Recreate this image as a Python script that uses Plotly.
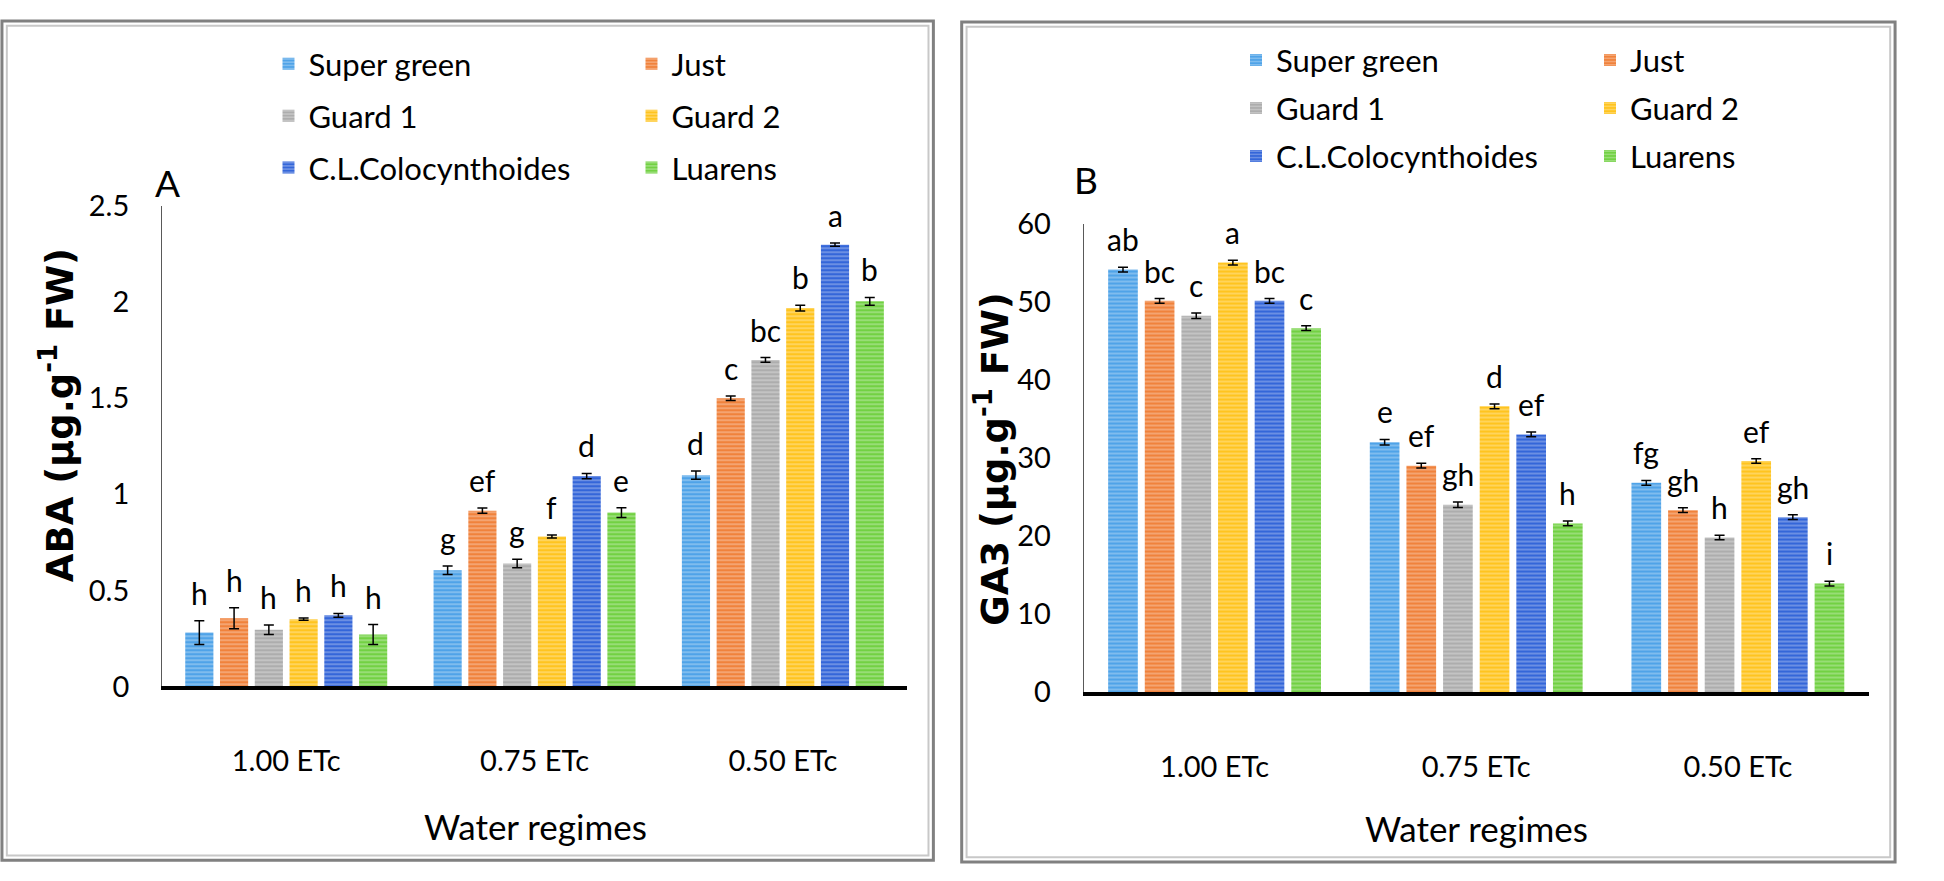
import plotly.graph_objects as go

W, H = 1944, 881

# --- data -------------------------------------------------------------
REGIMES = ["1.00 ETc", "0.75 ETc", "0.50 ETc"]
CULTIVARS = ["Super green", "Just", "Guard 1", "Guard 2", "C.L.Colocynthoides", "Luarens"]

# ABA (ug/g FW), one list per water regime, cultivars in CULTIVARS order
ABA_100 = [0.28, 0.355, 0.295, 0.35, 0.37, 0.27]
ABA_075 = [0.605, 0.915, 0.64, 0.78, 1.095, 0.905]
ABA_050 = [1.10, 1.50, 1.70, 1.97, 2.30, 2.005]
ABA_ERR_100 = [0.062, 0.055, 0.025, 0.006, 0.01, 0.052]
ABA_ERR_075 = [0.022, 0.014, 0.022, 0.008, 0.014, 0.025]
ABA_ERR_050 = [0.022, 0.012, 0.012, 0.015, 0.008, 0.02]
ABA_SIG_100 = ["h", "h", "h", "h", "h", "h"]
ABA_SIG_075 = ["g", "ef", "g", "f", "d", "e"]
ABA_SIG_050 = ["d", "c", "bc", "b", "a", "b"]

# GA3 (ug/g FW)
GA3_100 = [54.1, 50.1, 48.2, 55.0, 50.1, 46.6]
GA3_075 = [32.0, 29.0, 24.0, 36.6, 33.0, 21.6]
GA3_050 = [26.8, 23.3, 19.8, 29.6, 22.4, 13.9]
GA3_ERR_100 = [0.3, 0.3, 0.35, 0.3, 0.3, 0.3]
GA3_ERR_075 = [0.35, 0.3, 0.35, 0.3, 0.3, 0.3]
GA3_ERR_050 = [0.3, 0.3, 0.3, 0.3, 0.3, 0.3]
GA3_SIG_100 = ["ab", "bc", "c", "a", "bc", "c"]
GA3_SIG_075 = ["e", "ef", "gh", "d", "ef", "h"]
GA3_SIG_050 = ["fg", "gh", "h", "ef", "gh", "i"]

COLORS = ["#4fa3e8", "#f0823c", "#adadad", "#ffc41f", "#3466d9", "#72d143"]

FONT = "Lato, Carlito, sans-serif"
TITLE_FONT = "DejaVu Sans, Verdana, sans-serif"
BARGAP = 0.16
GROUPGAP = 0.19


def fx(p):
    return p / W


def fy(p):
    return 1 - p / H


def label(x, y, text, size, family=FONT, angle=0):
    # free text placed in pixel coordinates of the page
    return dict(x=fx(x), y=fy(y), xref="paper", yref="paper",
                xanchor="center", yanchor="middle", textangle=angle,
                text=text, showarrow=False,
                font=dict(family=family, size=size, color="black"))


fig = go.Figure()
annotations = []
shapes = []

panels = [
    dict(xa="x", ya="y",
         means=[ABA_100, ABA_075, ABA_050],
         errs=[ABA_ERR_100, ABA_ERR_075, ABA_ERR_050],
         sigs=[ABA_SIG_100, ABA_SIG_075, ABA_SIG_050],
         legends=["legend", "legend2", "legend3"]),
    dict(xa="x2", ya="y2",
         means=[GA3_100, GA3_075, GA3_050],
         errs=[GA3_ERR_100, GA3_ERR_075, GA3_ERR_050],
         sigs=[GA3_SIG_100, GA3_SIG_075, GA3_SIG_050],
         legends=["legend4", "legend5", "legend6"]),
]

for p in panels:
    for i, name in enumerate(CULTIVARS):
        vals = [m[i] for m in p["means"]]
        errs = [e[i] for e in p["errs"]]
        fig.add_trace(go.Bar(
            x=REGIMES, y=vals, name=name,
            xaxis=p["xa"], yaxis=p["ya"], legend=p["legends"][i // 2],
            marker=dict(
                color=COLORS[i], line=dict(width=0),
                pattern=dict(shape="-", fgcolor="white", fgopacity=0.45,
                             size=4, solidity=0.3),
            ),
            error_y=dict(type="data", array=errs, color="black",
                         thickness=1.5, width=5),
            hovertemplate=f"{name}<br>%{{x}}: %{{y}}<extra></extra>",
        ))
        # significance letters above each bar
        for j in range(len(REGIMES)):
            annotations.append(dict(
                x=j + (i - 2.5) * (1 - BARGAP) / 6,
                y=vals[j] + errs[j],
                xref=p["xa"], yref=p["ya"],
                text=p["sigs"][j][i], showarrow=False,
                xanchor="center", yanchor="bottom", yshift=8,
                font=dict(family=FONT, size=30, color="black"),
            ))

# --- axes titles / panel letters -------------------------------------
annotations += [
    label(59, 413, "<b>ABA (µg.g<sup>-1</sup> FW)</b>", 37, TITLE_FONT, -90),
    label(1017, 458, "<b>GA3 (µg.g<sup>-1</sup> FW)</b>", 37, TITLE_FONT, -90),
    label(548, 840, "Water regimes", 35),
    label(1512, 842, "Water regimes", 35),
    label(172, 170, "A", 37),
    label(1112, 167, "B", 37),
]

# --- panel frames ----------------------------------------------------
for x0, y0, x1, y1 in [(2, 2, 956, 876), (985, 3, 1941, 878)]:
    shapes.append(dict(type="rect", xref="paper", yref="paper",
                       x0=fx(x0), x1=fx(x1), y0=fy(y0), y1=fy(y1),
                       line=dict(color="#808080", width=3)))
    shapes.append(dict(type="rect", xref="paper", yref="paper",
                       x0=fx(x0 + 5), x1=fx(x1 - 5), y0=fy(y0 + 5), y1=fy(y1 - 5),
                       line=dict(color="#c8c8c8", width=2)))

xaxis_common = dict(
    type="category", showline=True, linecolor="black", linewidth=4,
    showgrid=False, zeroline=False, ticks="", ticklabelstandoff=46,
    tickfont=dict(family=FONT, size=29, color="black"),
)
yaxis_common = dict(
    showline=True, linecolor="#595959", linewidth=1, showgrid=False,
    zeroline=False, ticks="", ticklabelstandoff=26,
    tickfont=dict(family=FONT, size=29, color="black"),
)


def legend_row(x, y, entrywidth):
    return dict(
        x=fx(x), y=fy(y), orientation="h",
        entrywidth=entrywidth, entrywidthmode="pixels",
        xanchor="left", yanchor="middle", bgcolor="rgba(0,0,0,0)",
        font=dict(family=FONT, size=31, color="black"),
    )


fig.update_layout(
    width=W, height=H,
    margin=dict(l=0, r=0, t=0, b=0),
    paper_bgcolor="white", plot_bgcolor="white",
    barmode="group", bargap=BARGAP, bargroupgap=GROUPGAP,
    xaxis=dict(domain=[fx(166), fx(929)], anchor="y", **xaxis_common),
    yaxis=dict(domain=[fy(695), fy(195)], anchor="x", range=[0, 2.5],
               dtick=0.5, **yaxis_common),
    xaxis2=dict(domain=[fx(1110), fx(1914)], anchor="y2", **xaxis_common),
    yaxis2=dict(domain=[fy(701), fy(213)], anchor="x2", range=[0, 60],
                dtick=10, **yaxis_common),
    legend=legend_row(275, 47, 318),
    legend2=legend_row(275, 101, 318),
    legend3=legend_row(275, 155, 318),
    legend4=legend_row(1266, 43, 309),
    legend5=legend_row(1266, 93, 309),
    legend6=legend_row(1266, 143, 309),
    annotations=annotations,
    shapes=shapes,
)

# drop the browser's default body margin so the figure fills the window
fig.write_html(
    "out.html",
    config={"displayModeBar": False},
    post_script="document.body.style.margin='0';document.body.style.overflow='hidden';",
)
